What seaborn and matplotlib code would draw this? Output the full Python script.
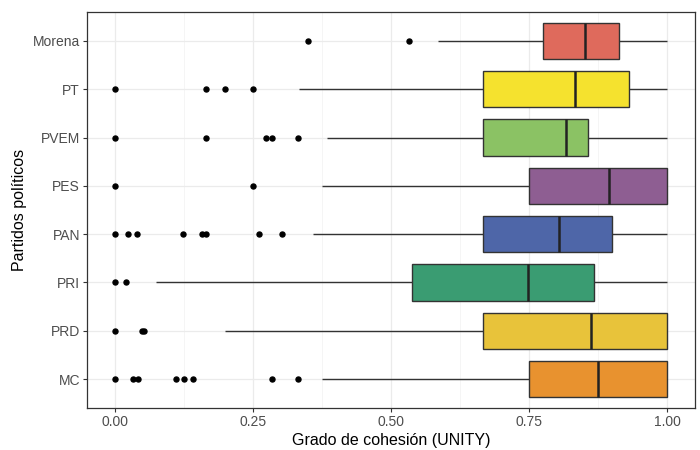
"""Boxplot horizontal del grado de cohesión (UNITY) por partido político"""
import pandas as pd
import matplotlib.pyplot as plt
from matplotlib.ticker import MultipleLocator
import seaborn as sns

# Partidos (de arriba hacia abajo)
partidos = ['Morena', 'PT', 'PVEM', 'PES', 'PAN', 'PRI', 'PRD', 'MC']

# Estadísticos de cada caja
q1 = [0.775, 0.667, 0.667, 0.75, 0.667, 0.538, 0.667, 0.75]
mediana = [0.851, 0.833, 0.817, 0.895, 0.803, 0.747, 0.861, 0.874]
q3 = [0.913, 0.931, 0.857, 1.0, 0.899, 0.867, 1.0, 1.0]
bigote_inf = [0.585, 0.333, 0.385, 0.375, 0.359, 0.074, 0.2, 0.375]
bigote_sup = [1.0, 1.0, 1.0, 1.0, 1.0, 1.0, 1.0, 1.0]

# Valores atípicos por partido
atipicos = [
    [0.349, 0.533],
    [0.0, 0.166, 0.2, 0.25],
    [0.0, 0.166, 0.273, 0.285, 0.332],
    [0.0, 0.25],
    [0.0, 0.024, 0.04, 0.124, 0.158, 0.165, 0.262, 0.303],
    [0.0, 0.02],
    [0.0, 0.049, 0.054],
    [0.0, 0.034, 0.043, 0.111, 0.125, 0.142, 0.285, 0.332],
]

colores = ['#DF6A5C', '#F5E22E', '#8BC264', '#8E5E92', '#4E66A8', '#3A9C72', '#E8C33A', '#E8922F']

etiquetas_x = ['0.00', '0.25', '0.50', '0.75', '1.00']

# Tabla larga para seaborn: n = 4k+1 observaciones, así los cuartiles caen justo
filas = []
for i, p in enumerate(partidos):
    m = len(atipicos[i])
    k = m + 1
    valores = atipicos[i] + [bigote_inf[i], q1[i]] + [mediana[i]] * k + [q3[i]] * k + [bigote_sup[i]] * k
    for v in valores:
        filas.append({'partido': p, 'unity': v})
df = pd.DataFrame(filas)

sns.set_style('white')
plt.rcParams['font.family'] = ['Liberation Sans', 'DejaVu Sans']

fig = plt.figure(figsize=(7, 4.5), dpi=100)
ax = fig.add_axes([0.1243, 0.0933, 0.8686, 0.88])

sns.boxplot(data=df, x='unity', y='partido', hue='partido', order=partidos, hue_order=partidos,
            palette=colores, legend=False, width=0.75, saturation=1, whis=1.5,
            linewidth=1.0, linecolor='#333333', showcaps=False,
            flierprops=dict(marker='o', markersize=3.6, markerfacecolor='black',
                            markeredgecolor='black'),
            medianprops=dict(linewidth=1.8, color='#222222'),
            ax=ax)

# Escalas con la expansión típica de ggplot
ax.set_xlim(-0.05, 1.05)
ax.set_ylim(7.6, -0.6)
ax.xaxis.set_minor_locator(MultipleLocator(0.125))
ax.set_xticks([0, 0.25, 0.5, 0.75, 1.0], etiquetas_x)

ax.set_axisbelow(True)
ax.grid(True, which='major', axis='both', color='#EBEBEB', linewidth=0.9)
ax.grid(True, which='minor', axis='x', color='#F2F2F2', linewidth=0.5)

for s in ax.spines.values():
    s.set_visible(True)
    s.set_color('#333333')
    s.set_linewidth(0.9)

ax.tick_params(axis='both', which='major', length=3, width=0.8, color='#333333',
               labelsize=10, labelcolor='#4D4D4D', left=True, bottom=True, pad=2)
ax.tick_params(axis='x', which='minor', length=0)

ax.set_xlabel('Grado de cohesión (UNITY)', fontsize=11.5, color='black', labelpad=3)
ax.set_ylabel('Partidos políticos', fontsize=11.5, color='black', labelpad=4)

plt.savefig('out.png', dpi=100)
